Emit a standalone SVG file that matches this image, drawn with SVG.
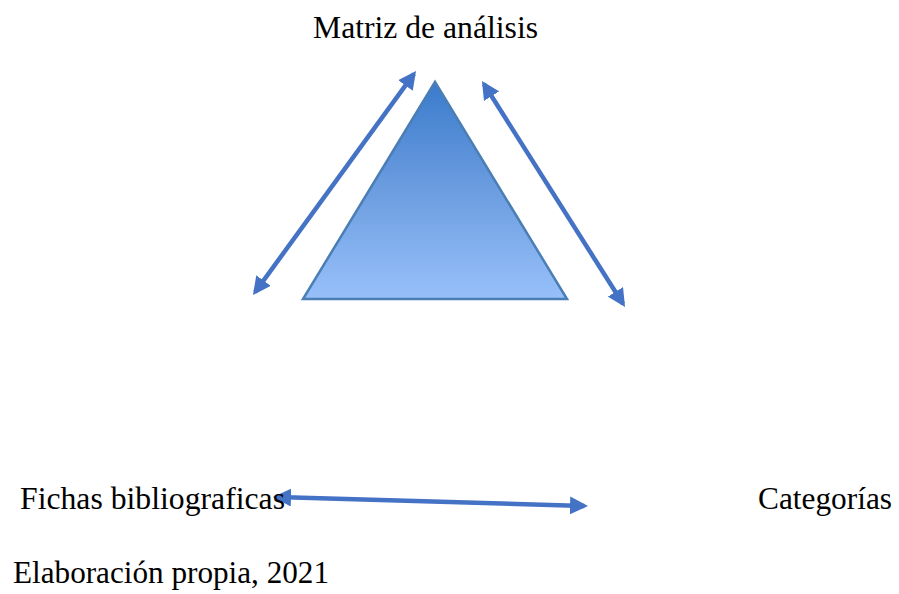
<svg xmlns="http://www.w3.org/2000/svg" width="899" height="594" viewBox="0 0 899 594">
<style>
.t{font-family:"Liberation Serif","Times New Roman",serif;font-size:31px;fill:#000}
.c{stroke:#4472C4;stroke-width:4.5;fill:none;marker-start:url(#a);marker-end:url(#a)}
</style>
<defs>
<linearGradient id="g" x1="0" y1="0" x2="0" y2="1">
<stop offset="0" stop-color="#3A7BCC"/>
<stop offset="0.5" stop-color="#6C9DE0"/>
<stop offset="1" stop-color="#97C0FA"/>
</linearGradient>
<marker id="a" viewBox="0 0 10 10" refX="8" refY="5" markerWidth="4" markerHeight="4" orient="auto-start-reverse" markerUnits="strokeWidth">
<path d="M0,0 L10,5 L0,10 z" fill="#4472C4"/>
</marker>
</defs>
<rect width="899" height="594" fill="#fff"/>
<g id="triangle">
<polygon points="435,82 567,299 303,299" fill="url(#g)" stroke="#4A7EB5" stroke-width="2.5"/>
</g>
<g id="connectors">
<line class="c" x1="255.1" y1="292.1" x2="413.9" y2="73.9"/>
<line class="c" x1="483.9" y1="84" x2="623.1" y2="304"/>
<line class="c" x1="276.6" y1="497.1" x2="584.4" y2="505.9"/>
</g>
<g id="matriz"><text class="t" x="313" y="38" textLength="225" lengthAdjust="spacingAndGlyphs">Matriz de análisis</text></g>
<g id="fichas"><text class="t" x="20" y="509" textLength="265" lengthAdjust="spacingAndGlyphs">Fichas bibliograficas</text></g>
<g id="categorias"><text class="t" x="758" y="509" textLength="134" lengthAdjust="spacingAndGlyphs">Categorías</text></g>
<g id="fuente"><text class="t" x="13" y="583" textLength="316" lengthAdjust="spacingAndGlyphs">Elaboración propia, 2021</text></g>
</svg>
